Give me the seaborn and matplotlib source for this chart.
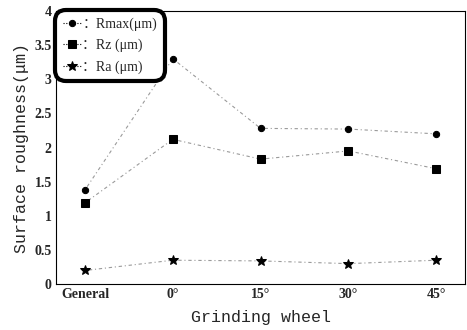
import matplotlib
matplotlib.use("Agg")
import matplotlib.pyplot as plt
import seaborn as sns
import pandas as pd

categories = ["General", "0°", "15°", "30°", "45°"]
rmax = [1.38, 3.30, 2.28, 2.27, 2.20]
rz = [1.19, 2.12, 1.83, 1.95, 1.69]
ra = [0.20, 0.35, 0.34, 0.30, 0.35]
series_names = ["：Rmax(μm)", "：Rz (μm)", "：Ra (μm)"]
yticks = [0, 0.5, 1, 1.5, 2, 2.5, 3, 3.5, 4]
ytick_labels = ["0", "0.5", "1", "1.5", "2", "2.5", "3", "3.5", "4"]

sns.set_style("white")
plt.rcParams['font.family'] = ['Liberation Serif', 'Noto Sans CJK SC', 'DejaVu Serif']

fig = plt.figure(figsize=(4.67, 3.30), dpi=100)
ax = fig.add_axes([0.12, 0.139, 0.876, 0.828])

xs = list(range(len(categories)))
markers = ["o", "s", "*"]
sizes = [4.5, 5.5, 7]
for vals, name, m, ms in zip([rmax, rz, ra], series_names, markers, sizes):
    df = pd.DataFrame({"x": xs, "y": vals})
    sns.lineplot(data=df, x="x", y="y", ax=ax, color="black", marker=m,
                 markersize=ms, markeredgecolor="black", linewidth=0.8,
                 linestyle=(0, (1, 2.5, 3, 2.5)), label=name)
    ax.lines[-1].set_color("#9a9a9a")
    ax.lines[-1].set_markerfacecolor("black")
    ax.lines[-1].set_markeredgecolor("black")

ax.set_xlim(-0.33, 4.33)
ax.set_ylim(0, 4)
ax.set_xticks(xs)
ax.set_xticklabels(categories, fontsize=10, fontweight="bold")
ax.set_yticks(yticks)
ax.set_yticklabels(ytick_labels, fontsize=10, fontweight="bold")
ax.tick_params(direction="in", length=3, width=0.8, pad=3)
for s in ax.spines.values():
    s.set_color("black")
    s.set_linewidth(0.8)

mono = ['Liberation Mono', 'Noto Sans CJK SC', 'DejaVu Sans Mono']
ax.set_xlabel("Grinding wheel", fontsize=12, family=mono, labelpad=6)
ax.set_ylabel("Surface roughness(μm)", fontsize=12, family=mono, labelpad=4)

leg = ax.legend(loc="upper left", fontsize=10, frameon=True, fancybox=True,
                borderpad=0.35, handlelength=1.3, handletextpad=0.1,
                labelspacing=0.55, borderaxespad=0.15)
frame = leg.get_frame()
frame.set_edgecolor("black")
frame.set_linewidth(3)
frame.set_alpha(1)
frame.set_boxstyle("round,pad=0.2,rounding_size=0.8")
for h in leg.get_lines():
    h.set_color("black")
    h.set_linestyle((0, (1, 1.5)))

fig.savefig("out.png", dpi=100)
